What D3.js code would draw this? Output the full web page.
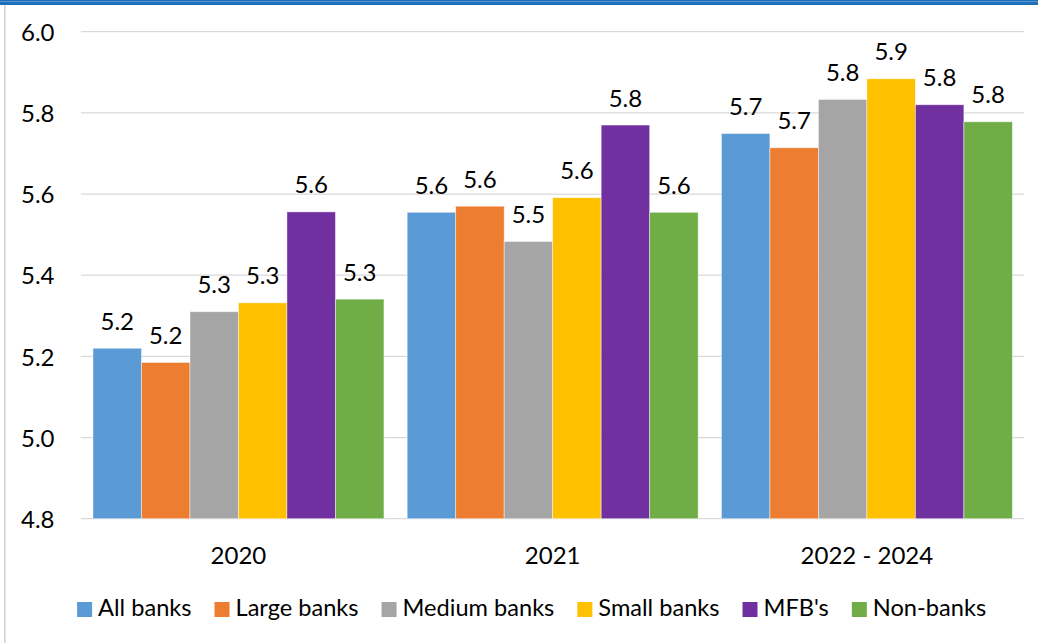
<!DOCTYPE html>
<html>
<head>
<meta charset="utf-8">
<script src="https://cdn.jsdelivr.net/npm/d3@7/dist/d3.min.js"></script>
<style>
  html, body { margin: 0; padding: 0; background: #fff; }
  svg { display: block; }
  text { font-family: Lato, "Open Sans", sans-serif; fill: #000; }
</style>
</head>
<body>
<svg id="chart" width="1038" height="643"></svg>
<script>
// Periods on the x axis
const categories = ["2020", "2021", "2022 - 2024"];

// Institution groups (one bar per group in each period)
const seriesNames = ["All banks", "Large banks", "Medium banks", "Small banks", "MFB's", "Non-banks"];
const seriesColors = ["#5B9BD5", "#ED7D31", "#A5A5A5", "#FFC000", "#7030A0", "#70AD47"];

// Values per series, in the order of categories
const allBanks    = [5.220, 5.555, 5.749];
const largeBanks  = [5.185, 5.570, 5.714];
const mediumBanks = [5.310, 5.483, 5.833];
const smallBanks  = [5.332, 5.591, 5.884];
const mfbs        = [5.556, 5.770, 5.820];
const nonBanks    = [5.341, 5.555, 5.778];

// Y axis ticks
const yTicks = [4.8, 5.0, 5.2, 5.4, 5.6, 5.8, 6.0];

const seriesValues = [allBanks, largeBanks, mediumBanks, smallBanks, mfbs, nonBanks];
const rows = categories.map((c, i) => ({
  category: c,
  bars: seriesNames.map((s, j) => ({ series: s, color: seriesColors[j], value: seriesValues[j][i] }))
}));

const svg = d3.select("#chart");
const plot = { left: 81.35, right: 1024, top: 31.7, bottom: 518.7 };

// Frame: blue band along the top, light rule down the left side
svg.append("rect").attr("x", 0).attr("y", 0).attr("width", 1038).attr("height", 5).attr("fill", "#1E6DB8");
svg.append("line").attr("x1", 0).attr("x2", 1038).attr("y1", 1.6).attr("y2", 1.6)
  .attr("stroke", "#6FA6DC").attr("stroke-width", 0.8);
svg.append("line").attr("x1", 4.8).attr("x2", 4.8).attr("y1", 5).attr("y2", 643)
  .attr("stroke", "#D4D4D4").attr("stroke-width", 1.6);

const x0 = d3.scaleBand()
  .domain(categories)
  .range([plot.left, plot.right])
  .paddingInner(0.074)
  .paddingOuter(0.037);

const x1 = d3.scaleBand()
  .domain(seriesNames)
  .range([0, x0.bandwidth()]);

const y = d3.scaleLinear()
  .domain([4.8, 6.0])
  .range([plot.bottom, plot.top]);

const fmt = d3.format(".1f");

// Gridlines
svg.append("g")
  .selectAll("line")
  .data(yTicks)
  .join("line")
  .attr("x1", plot.left - 0.5)
  .attr("x2", plot.right)
  .attr("y1", d => y(d))
  .attr("y2", d => y(d))
  .attr("stroke", "#D9D9D9")
  .attr("stroke-width", 1.3);

// Y axis tick labels
const yAxis = d3.axisLeft(y).tickValues(yTicks).tickFormat(fmt).tickSize(0).tickPadding(0);
const yg = svg.append("g").attr("transform", "translate(54.5,0)").call(yAxis);
yg.select(".domain").remove();
yg.selectAll("text")
  .attr("font-size", 24)
  .attr("font-family", "Lato, 'Open Sans', sans-serif")
  .attr("fill", "#000")
  .attr("dy", "0.36em");

// Bars
const groups = svg.append("g")
  .selectAll("g")
  .data(rows)
  .join("g")
  .attr("transform", d => `translate(${x0(d.category)},0)`);

groups.selectAll("rect")
  .data(d => d.bars)
  .join("rect")
  .attr("x", d => x1(d.series))
  .attr("y", d => y(d.value))
  .attr("width", x1.bandwidth())
  .attr("height", d => y(4.8) - y(d.value))
  .attr("fill", d => d.color)
  .attr("stroke", "#ffffff")
  .attr("stroke-opacity", 0.55)
  .attr("stroke-width", 0.8);

// Value labels above bars
groups.selectAll("text.value")
  .data(d => d.bars)
  .join("text")
  .attr("class", "value")
  .attr("x", d => x1(d.series) + x1.bandwidth() / 2)
  .attr("y", d => y(d.value) - 18.5)
  .attr("text-anchor", "middle")
  .attr("font-size", 24)
  .text(d => fmt(d.value));

// Category labels
const xAxis = d3.axisBottom(x0).tickSize(0).tickPadding(0);
const xg = svg.append("g").attr("transform", `translate(0,${plot.bottom})`).call(xAxis);
xg.select(".domain").remove();
xg.selectAll("text")
  .attr("font-size", 24)
  .attr("font-family", "Lato, 'Open Sans', sans-serif")
  .attr("fill", "#000")
  .attr("dy", null)
  .attr("y", 45.5);

// Legend
const legend = svg.append("g");
const items = legend.selectAll("g")
  .data(seriesNames.map((s, i) => ({ name: s, color: seriesColors[i] })))
  .join("g");
items.append("rect").attr("width", 15).attr("height", 15).attr("y", 602).attr("fill", d => d.color);
items.append("text").attr("x", 21).attr("y", 616).attr("font-size", 23.6).text(d => d.name);

let cursor = 0;
items.each(function () {
  const g = d3.select(this);
  g.attr("transform", `translate(${cursor},0)`);
  const w = g.select("text").node().getComputedTextLength();
  cursor += 21 + w + 23;
});
const legendWidth = cursor - 23;
legend.attr("transform", `translate(${531.6 - legendWidth / 2},0)`);
</script>
</body>
</html>
